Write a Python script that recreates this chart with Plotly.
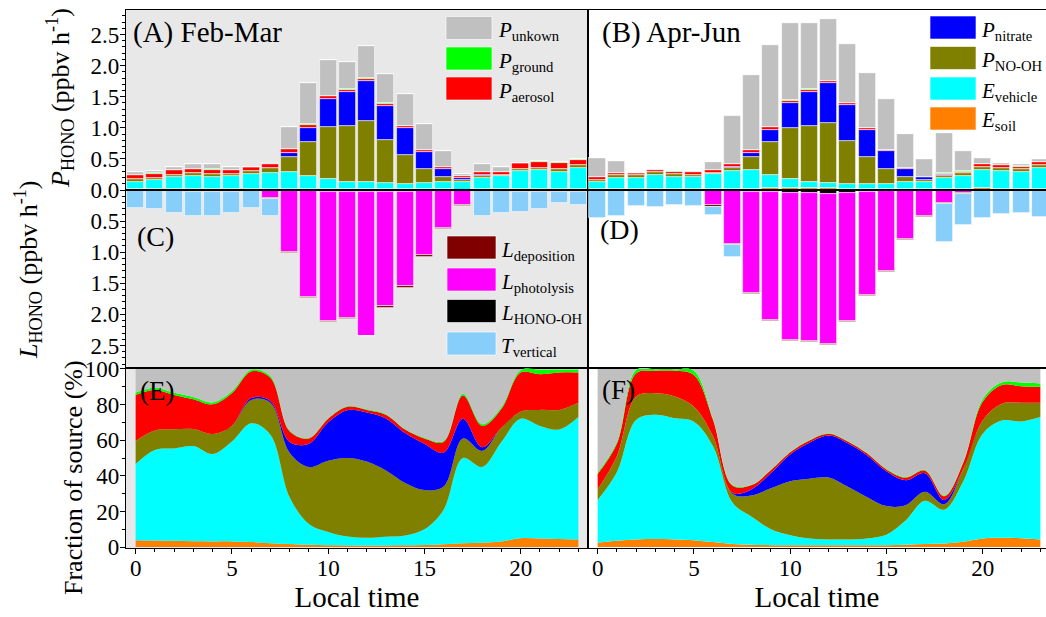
import plotly.graph_objects as go

# ---------------------------------------------------------------- data
hours = list(range(24))

# Feb-Mar: total HONO production rate (ppbv h-1) and share of each source (%)
fm_total = [0.287, 0.30, 0.37, 0.41, 0.41, 0.37, 0.37, 0.435, 1.01, 1.725, 2.09, 2.05,
            2.32, 1.87, 1.55, 1.06, 0.626, 0.265, 0.425, 0.37, 0.435, 0.467, 0.446, 0.494]
fm_soil = [3.9, 3.7, 3.5, 3.3, 3.2, 3.2, 2.8, 2.2, 1.7, 1.3, 1.0, 0.9,
           0.9, 0.9, 1.0, 1.2, 1.6, 2.2, 2.5, 3.2, 5.0, 4.8, 4.6, 4.3]
fm_vehicle = [42.7, 50.8, 51.9, 53.4, 49.0, 56.0, 66.7, 60.8, 26.3, 11.7, 7.5, 5.1,
              4.3, 4.9, 5.5, 8.8, 19.4, 47.8, 42.5, 55.8, 67.0, 63.2, 61.4, 68.7]
fm_nooh = [13.0, 10.9, 10.7, 9.6, 11.3, 8.8, 13.1, 18.0, 25.0, 32.0, 40.0, 44.0,
           42.8, 37.2, 29.5, 22.0, 13.0, 11.0, 9.0, 8.0, 4.0, 9.0, 11.0, 8.0]
fm_nitrate = [0, 0, 0, 0, 0, 0, 1.0, 1.0, 6.0, 13.0, 21.5, 26.8,
              27.5, 29.2, 28.0, 26.0, 19.0, 11.0, 2.0, 0, 0, 0, 0, 0]
fm_aerosol = [25.8, 22.8, 19.3, 16.7, 16.6, 18.3, 14.9, 13.0, 6.0, 3.0, 2.0, 1.9,
              1.5, 2.1, 2.0, 3.0, 6.0, 13.0, 12.0, 10.5, 22.0, 20.0, 21.0, 17.0]
fm_ground = [1.3, 1.2, 1.2, 1.2, 1.1, 1.1, 1.0, 1.0, 0.5, 0.3, 0.3, 0.3,
             0.3, 0.3, 0.3, 0.4, 0.5, 1.0, 1.0, 1.0, 1.3, 2.7, 1.7, 1.7]
fm_unknown = [13.3, 10.6, 13.4, 15.8, 18.8, 12.6, 0.5, 4.0, 34.5, 38.7, 27.7, 21.0,
              22.7, 25.4, 33.7, 38.6, 40.5, 14.0, 31.0, 21.5, 0.7, 0.3, 0.3, 0.3]

# Feb-Mar: loss terms (ppbv h-1)
fm_l_oh = [0, 0, 0, 0, 0, 0, 0, 0.002, 0.01, 0.02, 0.03, 0.03,
           0.04, 0.03, 0.03, 0.01, 0.005, 0, 0, 0, 0, 0, 0, 0]
fm_l_photo = [0, 0, 0, 0, 0, 0, 0, 0.13, 0.98, 1.70, 2.08, 2.03,
              2.30, 1.84, 1.52, 1.04, 0.60, 0.235, 0.01, 0, 0, 0, 0, 0]
fm_l_dep = [0.01, 0.01, 0.02, 0.025, 0.03, 0.03, 0.015, 0.02, 0.02, 0.015, 0.015, 0.015,
            0.015, 0.02, 0.02, 0.02, 0.02, 0.02, 0.01, 0.01, 0.03, 0.035, 0.035, 0.035]
fm_t_vert = [0.28, 0.30, 0.35, 0.385, 0.38, 0.345, 0.275, 0.27, 0, 0, 0, 0,
             0, 0, 0, 0, 0, 0, 0.40, 0.36, 0.32, 0.27, 0.18, 0.20]

# Apr-Jun: total HONO production rate (ppbv h-1) and share of each source (%)
aj_total = [0.51, 0.467, 0.276, 0.33, 0.30, 0.30, 0.45, 1.19, 1.85, 2.335, 2.69, 2.69,
            2.75, 2.35, 1.88, 1.465, 0.897, 0.494, 0.92, 0.62, 0.51, 0.44, 0.414, 0.494]
aj_soil = [2.4, 3.5, 4.3, 4.5, 4.3, 3.9, 2.8, 1.7, 1.3, 1.1, 1.0, 1.0,
           1.0, 1.0, 1.0, 1.1, 1.3, 1.7, 2.0, 3.0, 4.9, 5.2, 5.0, 4.3]
aj_vehicle = [24.0, 38.5, 67.0, 69.7, 68.0, 66.5, 53.6, 23.3, 15.7, 8.9, 5.6, 3.8,
              3.3, 3.3, 3.9, 5.9, 13.7, 24.3, 19.0, 34.0, 58.6, 65.8, 65.5, 68.7]
aj_nooh = [6.0, 9.0, 13.2, 12.1, 12.2, 8.4, 5.6, 5.0, 12.0, 23.0, 30.4, 33.6,
           34.7, 29.5, 23.1, 16.0, 8.5, 5.0, 3.0, 7.0, 7.5, 9.5, 10.5, 8.0]
aj_nitrate = [0, 0, 0, 0, 0, 0, 0, 0.5, 3.5, 8.6, 15.0, 20.2,
              23.6, 24.5, 23.5, 19.5, 14.0, 10.5, 2.5, 0, 0, 0, 0, 0]
aj_aerosol = [8.6, 7.0, 13.1, 12.6, 14.4, 17.8, 9.3, 4.0, 2.3, 1.6, 1.2, 1.2,
              1.0, 1.0, 1.1, 1.1, 1.5, 1.5, 2.0, 3.5, 10.5, 10.5, 9.3, 9.0]
aj_ground = [0.8, 1.0, 1.9, 0.9, 0.9, 2.4, 0.7, 0.5, 0.3, 0.3, 0.3, 0.3,
             0.3, 0.3, 0.3, 0.3, 0.3, 0.4, 0.4, 0.5, 1.5, 1.5, 2.0, 1.8]
aj_unknown = [58.2, 41.0, 0.5, 0.2, 0.2, 1.0, 28.0, 65.0, 64.9, 56.5, 46.5, 39.9,
              36.1, 40.4, 47.1, 56.1, 60.7, 56.6, 71.1, 52.0, 17.0, 7.5, 7.7, 8.2]

# Apr-Jun: loss terms (ppbv h-1)
aj_l_oh = [0, 0, 0, 0, 0, 0, 0, 0.005, 0.025, 0.04, 0.05, 0.05,
           0.06, 0.05, 0.03, 0.01, 0.005, 0, 0, 0, 0, 0, 0, 0]
aj_l_photo = [0, 0, 0, 0, 0, 0, 0.24, 0.86, 1.625, 2.05, 2.36, 2.37,
              2.41, 2.05, 1.66, 1.29, 0.775, 0.41, 0.215, 0.05, 0, 0, 0, 0]
aj_l_dep = [0.01, 0.01, 0.01, 0.01, 0.01, 0.02, 0.03, 0.02, 0.02, 0.02, 0.02, 0.02,
            0.02, 0.02, 0.02, 0.02, 0.02, 0.03, 0.01, 0.01, 0.01, 0.01, 0.01, 0.015]
aj_t_vert = [0.445, 0.405, 0.24, 0.26, 0.228, 0.234, 0.135, 0.19, 0, 0, 0, 0,
             0, 0, 0, 0, 0, 0, 0.61, 0.50, 0.44, 0.38, 0.36, 0.425]

# ---------------------------------------------------------------- styling
FONT = "Liberation Serif"
COL = {
    "soil": "#ff8000", "vehicle": "#00ffff", "nooh": "#808000", "nitrate": "#0000ff",
    "aerosol": "#ff0000", "ground": "#00ff00", "unknown": "#c0c0c0",
    "oh": "#000000", "photo": "#ff00ff", "dep": "#800000", "tvert": "#87cefa",
}
PANEL_GREY = "#e8e8e8"

W, H = 1046, 617
LM, RM, TM, BM = 126, 0, 10, 69
PW, PH = W - LM - RM, H - TM - BM
XS = (588 - LM) / PW           # split between left / right columns
YS = (H - BM - 368) / PH       # split between rate panels and fraction panels


def pxx(xp):
    return (xp - LM) / PW


def pxy(yp):
    return (H - BM - yp) / PH


fig = go.Figure()

seasons = [
    dict(xa="x", ya="y", xe="x3", ye="y3", grp="fm", total=fm_total,
         shares=[("soil", fm_soil), ("vehicle", fm_vehicle), ("nooh", fm_nooh),
                 ("nitrate", fm_nitrate), ("aerosol", fm_aerosol),
                 ("ground", fm_ground), ("unknown", fm_unknown)],
         losses=[("oh", fm_l_oh), ("photo", fm_l_photo), ("dep", fm_l_dep),
                 ("tvert", fm_t_vert)]),
    dict(xa="x2", ya="y2", xe="x4", ye="y4", grp="aj", total=aj_total,
         shares=[("soil", aj_soil), ("vehicle", aj_vehicle), ("nooh", aj_nooh),
                 ("nitrate", aj_nitrate), ("aerosol", aj_aerosol),
                 ("ground", aj_ground), ("unknown", aj_unknown)],
         losses=[("oh", aj_l_oh), ("photo", aj_l_photo), ("dep", aj_l_dep),
                 ("tvert", aj_t_vert)]),
]

BAR_W = 0.88
EDGE = dict(color="rgba(255,255,255,0.7)", width=0.8)

for s in seasons:
    # production terms stacked upward
    for key, share in s["shares"]:
        rate = [p * t / 100.0 for p, t in zip(share, s["total"])]
        fig.add_trace(go.Bar(x=hours, y=rate, xaxis=s["xa"], yaxis=s["ya"],
                             width=BAR_W, marker=dict(color=COL[key], line=EDGE),
                             showlegend=False, hoverinfo="skip"))
    # loss terms stacked downward
    for key, vals in s["losses"]:
        fig.add_trace(go.Bar(x=hours, y=[-v for v in vals], xaxis=s["xa"], yaxis=s["ya"],
                             width=BAR_W, marker=dict(color=COL[key], line=EDGE),
                             showlegend=False, hoverinfo="skip"))
    # fraction of source, stacked areas
    for key, share in s["shares"]:
        fig.add_trace(go.Scatter(x=hours, y=share, xaxis=s["xe"], yaxis=s["ye"],
                                 stackgroup=s["grp"], mode="lines",
                                 line=dict(width=0, shape="spline", smoothing=1.0),
                                 fillcolor=COL[key], showlegend=False,
                                 hoverinfo="skip"))

# ---------------------------------------------------------------- axes
axis_common = dict(showline=True, linecolor="black", linewidth=1.2, showgrid=False,
                   zeroline=False, tickcolor="black",
                   tickfont=dict(family=FONT, size=23, color="black"))

rate_ticks = [-2.5, -2.0, -1.5, -1.0, -0.5, 0.0, 0.5, 1.0, 1.5, 2.0, 2.5]
rate_text = ["%.1f" % abs(v) for v in rate_ticks]
RATE_RANGE = [-2.862, 2.894]
X_LEFT = [-0.5, 23.5]
X_RIGHT = [-0.5, -0.5 + 24 * (1046 - 588) / (588 - 126)]

x_bottom = dict(tickmode="array", tickvals=[0, 5, 10, 15, 20], ticks="outside", ticklen=5,
                ticklabelstandoff=-6,
                minor=dict(dtick=1, tick0=0, ticks="outside", ticklen=3, tickcolor="black"),
                title=dict(text="Local time", font=dict(family=FONT, size=29, color="black"),
                           standoff=0))

fig.update_layout(
    xaxis=dict(axis_common, domain=[0, XS], range=X_LEFT, anchor="y", mirror=True,
               showticklabels=False, ticks=""),
    xaxis2=dict(axis_common, domain=[XS, 1], range=X_RIGHT, anchor="y2", mirror=True,
                showticklabels=False, ticks=""),
    xaxis3=dict(axis_common, domain=[0, XS], range=X_LEFT, anchor="y3", mirror=True,
                **x_bottom),
    xaxis4=dict(axis_common, domain=[XS, 1], range=X_RIGHT, anchor="y4", mirror=True,
                **x_bottom),
    yaxis=dict(axis_common, domain=[YS, 1], range=RATE_RANGE, anchor="x", mirror=True,
               tickmode="array", tickvals=rate_ticks, ticktext=rate_text,
               ticks="outside", ticklen=5, ticklabelstandoff=-4,
               minor=dict(dtick=0.1, tick0=0, ticks="outside", ticklen=3, tickcolor="black")),
    yaxis2=dict(axis_common, domain=[YS, 1], range=RATE_RANGE, anchor="x2", mirror=False,
                showticklabels=False, ticks=""),
    yaxis3=dict(axis_common, domain=[0, YS], range=[-0.5, 100.5], anchor="x3", mirror=True,
                tickmode="array", tickvals=[0, 20, 40, 60, 80, 100],
                ticks="outside", ticklen=5, ticklabelstandoff=-4,
                minor=dict(dtick=10, tick0=0, ticks="outside", ticklen=3, tickcolor="black")),
    yaxis4=dict(axis_common, domain=[0, YS], range=[-0.5, 100.5], anchor="x4", mirror=False,
                showticklabels=False, ticks=""),
    barmode="relative",
    bargap=0,
    width=W, height=H,
    margin=dict(l=LM, r=RM, t=TM, b=BM),
    plot_bgcolor="white", paper_bgcolor="white",
    font=dict(family=FONT, color="black"),
    showlegend=False,
)

shapes = []
# grey panel backgrounds for the Feb-Mar column
for xr, yr in (("x", "y"), ("x3", "y3")):
    shapes.append(dict(type="rect", xref=xr + " domain", yref=yr + " domain",
                       x0=0, x1=1, y0=0, y1=1, fillcolor=PANEL_GREY,
                       line=dict(width=0), layer="below"))
# zero line across the rate panels
shapes.append(dict(type="line", xref="paper", yref="y", x0=0, x1=1, y0=0, y1=0,
                   line=dict(color="black", width=2), layer="above"))

annotations = []


def label(text, x, y, size, xanchor="left"):
    annotations.append(dict(text=text, xref="paper", yref="paper", x=pxx(x), y=pxy(y),
                            xanchor=xanchor, yanchor="middle", showarrow=False,
                            font=dict(family=FONT, size=size, color="black")))


label("(A) Feb-Mar", 131, 33, 29)
label("(B) Apr-Jun", 600, 33, 29)
label("(C)", 135, 237, 28)
label("(D)", 598, 229, 28)
label("(E)", 138, 391, 27)
label("(F)", 600, 390, 27)

# legend blocks
legend_blocks = [
    (446, 492, 496, [("unknown", "<i>P</i><sub>unkown</sub>", 28),
                     ("ground", "<i>P</i><sub>ground</sub>", 58.5),
                     ("aerosol", "<i>P</i><sub>aerosol</sub>", 88.5)]),
    (930, 976, 979, [("nitrate", "<i>P</i><sub>nitrate</sub>", 27.5),
                     ("nooh", "<i>P</i><sub>NO-OH</sub>", 58),
                     ("vehicle", "<i>E</i><sub>vehicle</sub>", 88.5),
                     ("soil", "<i>E</i><sub>soil</sub>", 118.5)]),
    (447, 496, 499, [("dep", "<i>L</i><sub>deposition</sub>", 247.5),
                     ("photo", "<i>L</i><sub>photolysis</sub>", 279.5),
                     ("oh", "<i>L</i><sub>HONO-OH</sub>", 311),
                     ("tvert", "<i>T</i><sub>vertical</sub>", 343.5)]),
]
for x0, x1, xt, items in legend_blocks:
    for key, text, yc in items:
        shapes.append(dict(type="rect", xref="paper", yref="paper",
                           x0=pxx(x0), x1=pxx(x1), y0=pxy(yc + 11.5), y1=pxy(yc - 11.5),
                           fillcolor=COL[key], line=dict(color="rgba(255,255,255,0.6)", width=1),
                           layer="above"))
        annotations.append(dict(text=text, xref="paper", yref="paper", x=pxx(xt),
                                y=pxy(yc), xanchor="left", yanchor="middle", yshift=-3,
                                showarrow=False,
                                font=dict(family=FONT, size=21, color="black")))

# y-axis titles
for text, x, y, size in (
        ("<i>P</i><sub>HONO</sub> (ppbv h<sup>-1</sup>)", 60, 98, 26),
        ("<i>L</i><sub>HONO</sub> (ppbv h<sup>-1</sup>)", 28, 270, 26),
        ("Fraction of source (%)", 73, 478, 26)):
    annotations.append(dict(text=text, xref="paper", yref="paper", x=pxx(x), y=pxy(y),
                            xanchor="center", yanchor="middle", textangle=-90,
                            showarrow=False, font=dict(family=FONT, size=size, color="black")))

fig.update_layout(shapes=shapes, annotations=annotations)

fig.write_html("out.html")
